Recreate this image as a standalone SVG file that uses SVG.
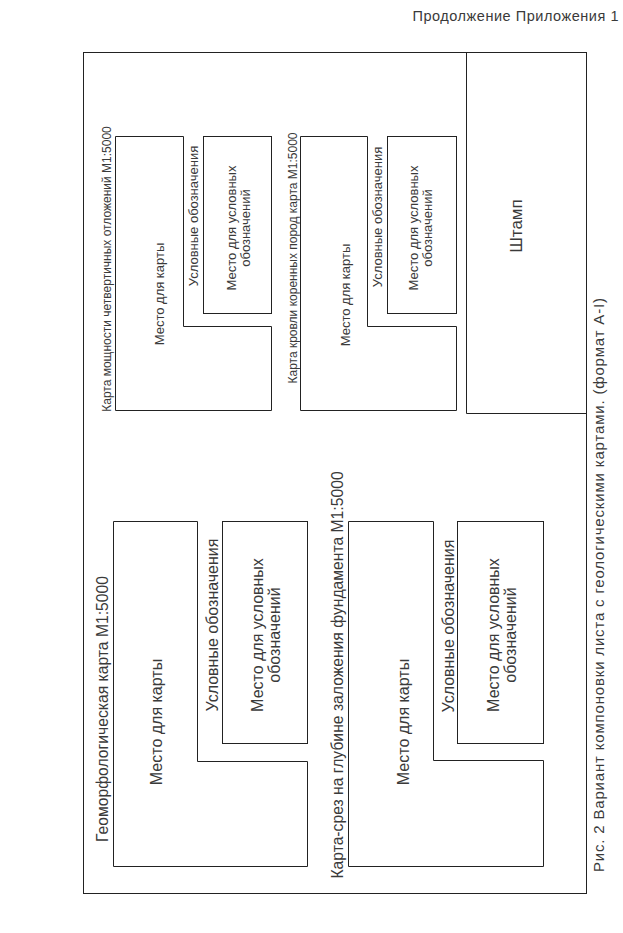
<svg xmlns="http://www.w3.org/2000/svg" width="623" height="933" viewBox="0 0 623 933">
<style>
  .ln { fill: none; stroke: #222; stroke-width: 1; }
  .t { font-family: "Liberation Sans", Arial, sans-serif; fill: #3a3a3a; dominant-baseline: central; text-anchor: middle; }
  .s12 { font-size: 12px; }
  .s13 { font-size: 13px; }
  .s16 { font-size: 16px; }
  .s157 { font-size: 15.7px; }
</style>
<rect x="0" y="0" width="623" height="933" fill="#fff"/>
<text id="header" class="t" x="515.5" y="16" style="font-size:14.5px" textLength="206" lengthAdjust="spacing">Продолжение Приложения 1</text>
<g id="sheet">
  <rect class="ln" x="83.5" y="52.5" width="503" height="841"/>
</g>
<g id="stamp">
  <path class="ln" d="M466.5,52.5 V413.5 H586.5"/>
  <text class="t" transform="translate(516,226) rotate(-90)" style="font-size:17px">Штамп</text>
</g>
<g id="map-quaternary">
  <text class="t s12" transform="translate(107,269) rotate(-90)">Карта мощности четвертичных отложений М1:5000</text>
  <path class="ln" d="M115.5,136.5 H183.5 V326.5 H271.5 V410.5 H115.5 Z"/>
  <text class="t s13" transform="translate(159,294) rotate(-90)">Место для карты</text>
  <text class="t s13" transform="translate(193,216) rotate(-90)">Условные обозначения</text>
  <rect class="ln" x="203.5" y="136.5" width="68" height="177"/>
  <text class="t s13" transform="translate(231,228) rotate(-90)">Место для условных</text>
  <text class="t s13" transform="translate(245,228) rotate(-90)">обозначений</text>
</g>
<g id="map-bedrock">
  <text class="t s12" transform="translate(293,258) rotate(-90)">Карта кровли коренных пород карта М1:5000</text>
  <path class="ln" d="M300.5,136.5 H367.5 V326.5 H456.5 V410.5 H300.5 Z"/>
  <text class="t s13" transform="translate(345,295) rotate(-90)">Место для карты</text>
  <text class="t s13" transform="translate(377,217) rotate(-90)">Условные обозначения</text>
  <rect class="ln" x="387.5" y="136.5" width="69" height="177"/>
  <text class="t s13" transform="translate(413,228) rotate(-90)">Место для условных</text>
  <text class="t s13" transform="translate(427,228) rotate(-90)">обозначений</text>
</g>
<g id="map-geomorph">
  <text class="t s157" transform="translate(102,709) rotate(-90)">Геоморфологическая карта М1:5000</text>
  <path class="ln" d="M113.5,521.5 H197.5 V761.5 H307.5 V866.5 H113.5 Z"/>
  <text class="t s16" transform="translate(156,722) rotate(-90)">Место для карты</text>
  <text class="t s16" transform="translate(212,625) rotate(-90)">Условные обозначения</text>
  <rect class="ln" x="222.5" y="521.5" width="85" height="222"/>
  <text class="t s16" transform="translate(257,635) rotate(-90)">Место для условных</text>
  <text class="t s16" transform="translate(274,635) rotate(-90)">обозначений</text>
</g>
<g id="map-foundation">
  <text class="t s157" transform="translate(337,675) rotate(-90)">Карта-срез на глубине заложения фундамента М1:5000</text>
  <path class="ln" d="M348.5,521.5 H433.5 V760.5 H543.5 V866.5 H348.5 Z"/>
  <text class="t s16" transform="translate(403,722) rotate(-90)">Место для карты</text>
  <text class="t s16" transform="translate(448,626) rotate(-90)">Условные обозначения</text>
  <rect class="ln" x="457.5" y="521.5" width="86" height="222"/>
  <text class="t s16" transform="translate(493,635) rotate(-90)">Место для условных</text>
  <text class="t s16" transform="translate(510,635) rotate(-90)">обозначений</text>
</g>
<g id="connectors"></g>
<text id="caption" class="t" transform="translate(598,585) rotate(-90)" style="font-size:15px" textLength="574" lengthAdjust="spacing">Рис. 2 Вариант компоновки листа с геологическими картами. (формат А-I)</text>
</svg>
